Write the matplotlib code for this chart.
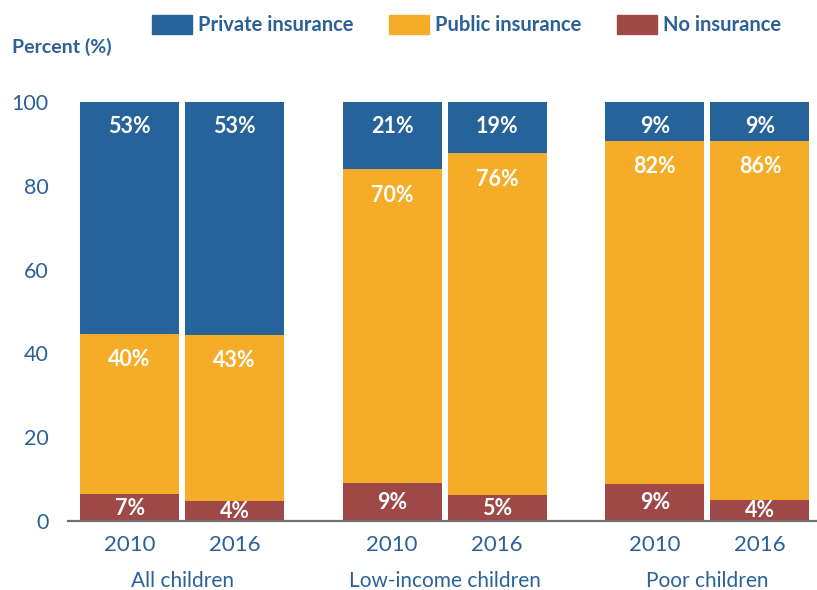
import matplotlib
matplotlib.use("Agg")
import matplotlib.pyplot as plt
from matplotlib.patches import Patch

# data
groups = ["All children", "Low-income children", "Poor children"]
years = ["2010", "2016"]
series = ["Private insurance", "Public insurance", "No insurance"]

# segment heights as drawn (percent), order: 2010, 2016 per group
no_ins = [6.4, 4.8, 9.1, 6.3, 8.8, 5.0]
public = [38.3, 39.7, 74.9, 81.5, 81.9, 85.7]
private = [55.3, 55.5, 16.0, 12.2, 9.3, 9.3]

# printed labels
no_lbl = ["7%", "4%", "9%", "5%", "9%", "4%"]
public_lbl = ["40%", "43%", "70%", "76%", "82%", "86%"]
private_lbl = ["53%", "53%", "21%", "19%", "9%", "9%"]

BLUE = "#26639A"
ORANGE = "#F5AD29"
RED = "#9E4948"
TEXT = "#2B6197"
FONT = "Lato"

plt.rcParams["font.family"] = [FONT, "DejaVu Sans"]

fig = plt.figure(figsize=(8.17, 5.90), dpi=100)
ax = fig.add_axes([68 / 817, 69 / 590, 749 / 817, 419 / 590])

x = []
for g in range(len(groups)):
    x += [g * 2.5 - 0.5, g * 2.5 + 0.5]
w = 0.943

bottom_pub = no_ins
bottom_priv = [a + b for a, b in zip(no_ins, public)]
ax.bar(x, no_ins, w, color=RED)
ax.bar(x, public, w, bottom=bottom_pub, color=ORANGE)
ax.bar(x, private, w, bottom=bottom_priv, color=BLUE)

lbl_kw = dict(ha="center", va="center", color="white", fontsize=15.5, fontweight="bold")
for i in range(len(x)):
    ax.text(x[i], no_ins[i] / 2 - 0.1, no_lbl[i], **lbl_kw)
    ax.annotate(public_lbl[i], (x[i], bottom_priv[i]), xytext=(0, -26),
                textcoords="offset pixels", **lbl_kw)
    ax.annotate(private_lbl[i], (x[i], 100), xytext=(0, -25),
                textcoords="offset pixels", **lbl_kw)

ax.set_xlim(-1.086, 6.043)
ax.set_ylim(0, 100)
ax.set_yticks([0, 20, 40, 60, 80, 100])
ax.set_xticks(x)
ax.set_xticklabels(years * 3)
ax.tick_params(axis="y", length=0, pad=14, labelsize=15.5, labelcolor=TEXT)
ax.tick_params(axis="x", length=0, pad=10, labelsize=16, labelcolor=TEXT)
for s in ["top", "right", "left"]:
    ax.spines[s].set_visible(False)
ax.spines["bottom"].set_color("#707070")
ax.spines["bottom"].set_linewidth(1.6)

for g, name in enumerate(groups):
    ax.annotate(name, (g * 2.5, 0), xytext=(0, -60), textcoords="offset pixels",
                ha="center", va="center", fontsize=15, color=TEXT,
                annotation_clip=False)

fig.text(12 / 817, 1 - 47 / 590, "Percent (%)", fontsize=14, fontweight="bold",
         color=TEXT, va="center", ha="left")

handles = [Patch(color=BLUE), Patch(color=ORANGE), Patch(color=RED)]
leg = fig.legend(handles, series, loc="center left", bbox_to_anchor=(152 / 817, 1 - 25 / 590),
                 ncol=3, frameon=False, handlelength=2.0, handleheight=1.05,
                 handletextpad=0.3, columnspacing=1.75, borderaxespad=0, borderpad=0,
                 prop=dict(family=FONT, size=14.5, weight="bold"))
for t in leg.get_texts():
    t.set_color(TEXT)

fig.savefig("out.png", dpi=100)
